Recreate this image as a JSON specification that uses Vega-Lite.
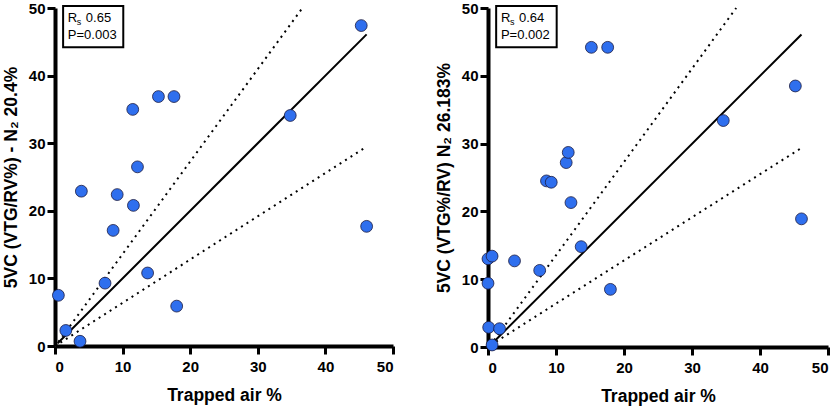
{
  "$schema": "https://vega.github.io/schema/vega-lite/v6.json",
  "padding": {"left": 2, "top": 1, "right": 4, "bottom": 4},
  "background": "white",
  "bounds": "flush",
  "spacing": 95,
  "config": {
    "view": {"stroke": null},
    "font": "Liberation Sans",
    "axis": {
      "grid": false,
      "domainColor": "black",
      "tickColor": "black",
      "labelFont": "Liberation Sans",
      "labelFontWeight": "bold",
      "labelFontSize": 15,
      "labelColor": "black",
      "titleFont": "Liberation Sans",
      "titleFontWeight": "bold",
      "titleFontSize": 17.5,
      "titleColor": "black",
      "zindex": 0
    }
  },
  "datasets": {
    "left": [
      {"x": 0.5, "y": 7.5}, {"x": 1.6, "y": 2.3}, {"x": 3.7, "y": 0.7}, {"x": 3.9, "y": 22.9},
      {"x": 7.4, "y": 9.3}, {"x": 8.6, "y": 17.1}, {"x": 9.2, "y": 22.4}, {"x": 11.5, "y": 35.0},
      {"x": 11.6, "y": 20.8}, {"x": 12.2, "y": 26.5}, {"x": 13.7, "y": 10.8}, {"x": 15.3, "y": 36.9},
      {"x": 17.6, "y": 36.9}, {"x": 18.0, "y": 5.9}, {"x": 34.8, "y": 34.1}, {"x": 45.3, "y": 47.4},
      {"x": 46.1, "y": 17.7}
    ],
    "right": [
      {"x": 0.6, "y": 0.3}, {"x": 0.1, "y": 2.9}, {"x": 1.7, "y": 2.7}, {"x": 0.0, "y": 9.4},
      {"x": 0.0, "y": 13.0}, {"x": 0.6, "y": 13.4}, {"x": 3.9, "y": 12.7}, {"x": 7.6, "y": 11.3},
      {"x": 8.6, "y": 24.5}, {"x": 9.3, "y": 24.3}, {"x": 11.5, "y": 27.2}, {"x": 11.8, "y": 28.7},
      {"x": 12.2, "y": 21.3}, {"x": 13.7, "y": 14.8}, {"x": 15.2, "y": 44.2}, {"x": 17.6, "y": 44.2},
      {"x": 18.0, "y": 8.5}, {"x": 34.6, "y": 33.4}, {"x": 45.2, "y": 38.5}, {"x": 46.1, "y": 18.9}
    ],
    "fitLeft": [{"x": 0.4, "y": 0.4}, {"x": 46.1, "y": 46.1}],
    "upperLeft": [{"x": 0.5, "y": 0.6}, {"x": 36.6, "y": 50}],
    "lowerLeft": [{"x": 0.8, "y": 0.5}, {"x": 45.8, "y": 29.3}],
    "fitRight": [{"x": 0.9, "y": 0.8}, {"x": 46.1, "y": 46.1}],
    "upperRight": [{"x": 0.9, "y": 1.0}, {"x": 36.5, "y": 50}],
    "lowerRight": [{"x": 1.2, "y": 0.8}, {"x": 46.0, "y": 29.3}],
    "box": [{"x1": 1.2, "x2": 10.1, "y1": 44.2, "y2": 50.3}],
    "labLeft": [{"x": 1.9, "y": 48.5, "r": "R", "s": "s", "v": "0.65", "p": "P=0.003", "py": 46.0}],
    "labRight": [{"x": 1.9, "y": 48.5, "r": "R", "s": "s", "v": "0.64", "p": "P=0.002", "py": 46.0}]
  },
  "hconcat": [
    {
      "width": 338,
      "height": 338,
      "layer": [
        {
          "data": {"name": "box"},
          "mark": {"type": "rect", "fill": "white", "stroke": "black", "strokeWidth": 2, "clip": false},
          "encoding": {
            "x": {"field": "x1", "type": "quantitative", "scale": {"domain": [0, 50], "nice": false},
                  "axis": {"values": [0, 10, 20, 30, 40, 50], "title": "Trapped air %", "labelPadding": 5, "titlePadding": 12,
                           "domainWidth": 4, "tickWidth": 3, "tickSize": 8, "domainColor": "black", "tickColor": "black"}},
            "x2": {"field": "x2"},
            "y": {"field": "y1", "type": "quantitative", "scale": {"domain": [0, 50], "nice": false},
                  "axis": {"values": [0, 10, 20, 30, 40, 50], "title": "5VC (VTG/RV%) - N₂ 20.4%", "labelPadding": 2, "titlePadding": 8,
                           "domainWidth": 4, "tickWidth": 3, "tickSize": 8, "domainColor": "black", "tickColor": "black"}},
            "y2": {"field": "y2"}
          }
        },
        {
          "data": {"name": "labLeft"},
          "mark": {"type": "text", "align": "left", "baseline": "middle", "fontSize": 13, "color": "black", "font": "Liberation Sans"},
          "encoding": {"x": {"field": "x", "type": "quantitative"}, "y": {"field": "y", "type": "quantitative"}, "text": {"field": "r"}}
        },
        {
          "data": {"name": "labLeft"},
          "mark": {"type": "text", "align": "left", "baseline": "middle", "fontSize": 9, "dx": 9, "dy": 4, "color": "black", "font": "Liberation Sans"},
          "encoding": {"x": {"field": "x", "type": "quantitative"}, "y": {"field": "y", "type": "quantitative"}, "text": {"field": "s"}}
        },
        {
          "data": {"name": "labLeft"},
          "mark": {"type": "text", "align": "left", "baseline": "middle", "fontSize": 13, "dx": 18, "color": "black", "font": "Liberation Sans"},
          "encoding": {"x": {"field": "x", "type": "quantitative"}, "y": {"field": "y", "type": "quantitative"}, "text": {"field": "v"}}
        },
        {
          "data": {"name": "labLeft"},
          "mark": {"type": "text", "align": "left", "baseline": "middle", "fontSize": 13, "color": "black", "font": "Liberation Sans"},
          "encoding": {"x": {"field": "x", "type": "quantitative"}, "y": {"field": "py", "type": "quantitative"}, "text": {"field": "p"}}
        },
        {
          "data": {"name": "upperLeft"},
          "mark": {"type": "line", "color": "black", "strokeWidth": 2, "strokeDash": [2, 4.5], "clip": false},
          "encoding": {"x": {"field": "x", "type": "quantitative"}, "y": {"field": "y", "type": "quantitative"}}
        },
        {
          "data": {"name": "lowerLeft"},
          "mark": {"type": "line", "color": "black", "strokeWidth": 2, "strokeDash": [2, 4.5], "clip": false},
          "encoding": {"x": {"field": "x", "type": "quantitative"}, "y": {"field": "y", "type": "quantitative"}}
        },
        {
          "data": {"name": "fitLeft"},
          "mark": {"type": "line", "color": "black", "strokeWidth": 2, "clip": false},
          "encoding": {"x": {"field": "x", "type": "quantitative"}, "y": {"field": "y", "type": "quantitative"}}
        },
        {
          "data": {"name": "left"},
          "mark": {"type": "point", "shape": "circle", "filled": true, "fill": "#2F6FEE", "stroke": "#1a1a40", "strokeWidth": 0.8, "opacity": 1, "size": 140, "clip": false},
          "encoding": {"x": {"field": "x", "type": "quantitative"}, "y": {"field": "y", "type": "quantitative"}}
        }
      ]
    },
    {
      "width": 340,
      "height": 339,
      "layer": [
        {
          "data": {"name": "box"},
          "mark": {"type": "rect", "fill": "white", "stroke": "black", "strokeWidth": 2, "clip": false},
          "encoding": {
            "x": {"field": "x1", "type": "quantitative", "scale": {"domain": [0, 50], "nice": false},
                  "axis": {"values": [0, 10, 20, 30, 40, 50], "title": "Trapped air %", "labelPadding": 5, "titlePadding": 12,
                           "domainWidth": 4, "tickWidth": 3, "tickSize": 8, "domainColor": "black", "tickColor": "black"}},
            "x2": {"field": "x2"},
            "y": {"field": "y1", "type": "quantitative", "scale": {"domain": [0, 50], "nice": false},
                  "axis": {"values": [0, 10, 20, 30, 40, 50], "title": "5VC (VTG%/RV) N₂ 26.183%", "labelPadding": 2, "titlePadding": 8,
                           "domainWidth": 4, "tickWidth": 3, "tickSize": 8, "domainColor": "black", "tickColor": "black"}},
            "y2": {"field": "y2"}
          }
        },
        {
          "data": {"name": "labRight"},
          "mark": {"type": "text", "align": "left", "baseline": "middle", "fontSize": 13, "color": "black", "font": "Liberation Sans"},
          "encoding": {"x": {"field": "x", "type": "quantitative"}, "y": {"field": "y", "type": "quantitative"}, "text": {"field": "r"}}
        },
        {
          "data": {"name": "labRight"},
          "mark": {"type": "text", "align": "left", "baseline": "middle", "fontSize": 9, "dx": 9, "dy": 4, "color": "black", "font": "Liberation Sans"},
          "encoding": {"x": {"field": "x", "type": "quantitative"}, "y": {"field": "y", "type": "quantitative"}, "text": {"field": "s"}}
        },
        {
          "data": {"name": "labRight"},
          "mark": {"type": "text", "align": "left", "baseline": "middle", "fontSize": 13, "dx": 18, "color": "black", "font": "Liberation Sans"},
          "encoding": {"x": {"field": "x", "type": "quantitative"}, "y": {"field": "y", "type": "quantitative"}, "text": {"field": "v"}}
        },
        {
          "data": {"name": "labRight"},
          "mark": {"type": "text", "align": "left", "baseline": "middle", "fontSize": 13, "color": "black", "font": "Liberation Sans"},
          "encoding": {"x": {"field": "x", "type": "quantitative"}, "y": {"field": "py", "type": "quantitative"}, "text": {"field": "p"}}
        },
        {
          "data": {"name": "upperRight"},
          "mark": {"type": "line", "color": "black", "strokeWidth": 2, "strokeDash": [2, 4.5], "clip": false},
          "encoding": {"x": {"field": "x", "type": "quantitative"}, "y": {"field": "y", "type": "quantitative"}}
        },
        {
          "data": {"name": "lowerRight"},
          "mark": {"type": "line", "color": "black", "strokeWidth": 2, "strokeDash": [2, 4.5], "clip": false},
          "encoding": {"x": {"field": "x", "type": "quantitative"}, "y": {"field": "y", "type": "quantitative"}}
        },
        {
          "data": {"name": "fitRight"},
          "mark": {"type": "line", "color": "black", "strokeWidth": 2, "clip": false},
          "encoding": {"x": {"field": "x", "type": "quantitative"}, "y": {"field": "y", "type": "quantitative"}}
        },
        {
          "data": {"name": "right"},
          "mark": {"type": "point", "shape": "circle", "filled": true, "fill": "#2F6FEE", "stroke": "#1a1a40", "strokeWidth": 0.8, "opacity": 1, "size": 140, "clip": false},
          "encoding": {"x": {"field": "x", "type": "quantitative"}, "y": {"field": "y", "type": "quantitative"}}
        }
      ]
    }
  ]
}
